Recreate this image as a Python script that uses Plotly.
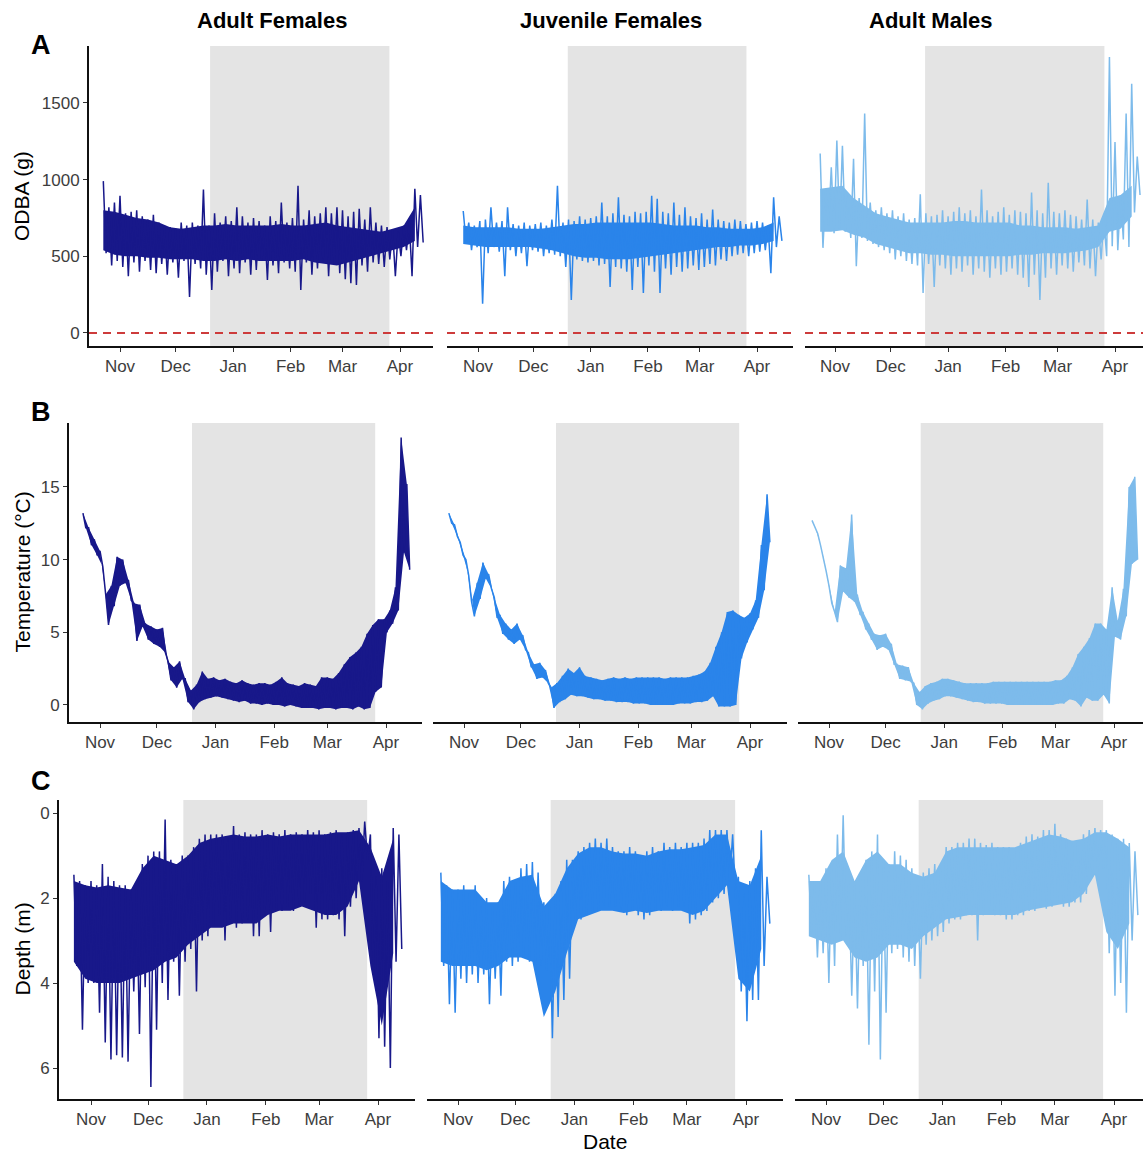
import pandas as pd
import plotly.graph_objects as go

W, H = 1143, 1152
FONT = "Liberation Sans, Arial, Helvetica, sans-serif"

GROUPS = ["Adult Females", "Juvenile Females", "Adult Males"]
COLORS = ["#18188a", "#2a84ea", "#7dbbeb"]
MONTH_TICKS = ["2018-11-01", "2018-12-01", "2019-01-01", "2019-02-01", "2019-03-01", "2019-04-01"]
MONTH_LABELS = ["Nov", "Dec", "Jan", "Feb", "Mar", "Apr"]
SHADE_START, SHADE_END = "2018-12-19 14:00", "2019-03-26 07:00"
SAMPLE_STEP_DAYS = 3   # one high/low pair of the raw record read every 3 days
CORE_STEP_DAYS = 6     # edges of the dense body of the record read every 6 days

ROW_TITLES = ["ODBA (g)", "Temperature (°C)", "Depth (m)"]
ROW_LETTERS = ["A", "B", "C"]
Y_TICKS = [[0, 500, 1000, 1500], [0, 5, 10, 15], [0, 2, 4, 6]]

# ---------------- ODBA (g) ----------------
odba_start = ["2018-10-23", "2018-10-24", "2018-10-24"]
af_odba_hi = [990, 820, 850, 895, 780, 790, 800, 760, 740, 770,
              720, 700, 690, 680, 720, 700, 720, 700, 935, 700,
              780, 720, 760, 730, 820, 760, 720, 750, 730, 700,
              760, 730, 850, 720, 750, 960, 740, 800, 760, 780,
              820, 780, 820, 800, 760, 790, 810, 740, 820, 720,
              700, 690, 670, 660, 700, 720, 940, 900]
af_odba_lo = [520, 440, 470, 430, 370, 460, 400, 470, 410, 390,
              450, 380, 460, 360, 470, 235, 450, 420, 380, 280,
              400, 470, 370, 420, 390, 460, 380, 410, 470, 345,
              440, 390, 460, 420, 400, 280, 460, 380, 420, 460,
              370, 450, 390, 350, 325, 313, 440, 400, 460, 450,
              430, 480, 370, 500, 540, 370, 560, 590]
af_odba_core_hi = [800, 790, 770, 750, 740, 720, 690, 680, 690, 700,
                   700, 710, 700, 700, 700, 700, 710, 700, 700, 710,
                   720, 700, 690, 680, 670, 660, 680, 700, 820]
af_odba_core_lo = [540, 510, 500, 500, 490, 490, 480, 480, 480, 470,
                   470, 480, 470, 480, 470, 470, 470, 470, 480, 460,
                   450, 440, 460, 480, 500, 520, 540, 560, 600]
jf_odba_hi = [795, 720, 700, 730, 740, 820, 720, 730, 820, 710,
              700, 720, 700, 710, 720, 700, 740, 960, 720, 740,
              730, 760, 740, 750, 760, 850, 760, 780, 885, 770,
              760, 790, 780, 790, 895, 875, 790, 780, 850, 770,
              820, 760, 750, 780, 740, 805, 740, 730, 720, 740,
              730, 710, 720, 730, 720, 700, 885, 760]
jf_odba_lo = [600, 540, 560, 190, 520, 560, 530, 370, 540, 500,
              520, 435, 540, 530, 500, 520, 510, 500, 430, 215,
              480, 470, 460, 470, 440, 450, 300, 430, 420, 400,
              280, 430, 260, 440, 400, 260, 420, 380, 430, 400,
              420, 440, 410, 430, 450, 440, 480, 470, 500, 510,
              520, 500, 520, 530, 540, 390, 560, 600]
jf_odba_core_hi = [700, 690, 690, 690, 690, 680, 680, 680, 690, 700,
                   710, 710, 720, 720, 720, 720, 720, 720, 710, 700,
                   700, 700, 690, 690, 680, 680, 680, 690, 720]
jf_odba_core_lo = [580, 570, 560, 560, 560, 560, 560, 550, 540, 520,
                   500, 490, 490, 480, 480, 480, 490, 500, 510, 520,
                   530, 540, 550, 560, 560, 570, 570, 580, 600]
am_odba_hi = [1170, 940, 1080, 1255, 1220, 900, 1135, 880, 1430, 850,
              800, 820, 780, 800, 760, 780, 740, 750, 905, 780,
              760, 770, 800, 760, 790, 820, 780, 800, 760, 935,
              800, 760, 790, 820, 770, 800, 790, 780, 915, 800,
              780, 980, 790, 780, 800, 770, 760, 740, 870, 740,
              720, 740, 1800, 1245, 900, 1430, 1625, 1150]
am_odba_lo = [555, 700, 650, 680, 660, 620, 435, 620, 600, 580,
              560, 540, 520, 480, 500, 470, 450, 440, 260, 450,
              300, 440, 420, 380, 420, 400, 440, 380, 420, 400,
              360, 420, 380, 400, 420, 380, 360, 300, 380, 215,
              360, 420, 380, 440, 420, 400, 460, 440, 420, 370,
              480, 500, 565, 540, 610, 560, 785, 900]
am_odba_core_hi = [940, 950, 960, 880, 830, 780, 760, 740, 720, 720,
                   720, 720, 730, 730, 720, 720, 720, 720, 700, 700,
                   690, 690, 690, 680, 690, 700, 880, 900, 960]
am_odba_core_lo = [660, 660, 670, 640, 620, 580, 560, 540, 520, 520,
                   510, 510, 500, 500, 500, 500, 500, 500, 510, 510,
                   520, 520, 520, 530, 540, 560, 660, 680, 760]

# ---------------- Temperature (°C) ----------------
temp_start = ["2018-10-23", "2018-10-24", "2018-10-23"]
af_temp_hi = [13.2, 12.2, 11.4, 10.6, 7.6, 8.2, 10.2, 10.0, 8.6, 7.0,
              6.9, 5.6, 5.4, 5.2, 5.3, 3.0, 2.6, 3.0, 1.8, 1.0,
              1.4, 2.3, 1.8, 1.9, 1.7, 1.8, 1.6, 1.5, 1.7, 1.5,
              1.4, 1.5, 1.5, 1.4, 1.6, 1.9, 1.5, 1.4, 1.3, 1.5,
              1.4, 1.3, 1.9, 1.9, 1.8, 2.2, 2.8, 3.3, 3.6, 4.0,
              4.9, 5.5, 5.9, 5.9, 6.5, 8.1, 18.4, 15.2]
af_temp_lo = [12.2, 11.0, 10.3, 9.5, 5.5, 6.8, 8.2, 8.4, 7.2, 4.4,
              5.4, 4.5, 4.2, 4.0, 3.6, 1.7, 1.2, 1.8, 0.2, -0.3,
              0.2, 0.4, 0.5, 0.6, 0.5, 0.4, 0.3, 0.2, 0.3, 0.1,
              0.1, 0.0, 0.1, 0.0, 0.0, -0.1, 0.0, -0.1, -0.2, -0.2,
              -0.2, -0.3, -0.2, -0.2, -0.3, -0.2, -0.2, -0.3, -0.1, -0.3,
              -0.2, 0.9, 1.2, 5.0, 5.6, 6.5, 10.5, 9.3]
jf_temp_hi = [13.2, 12.4, 11.2, 10.0, 7.1, 8.4, 9.8, 9.0, 7.4, 6.2,
              5.6, 5.2, 5.6, 4.8, 3.6, 2.8, 2.9, 2.4, 1.2, 1.5,
              2.0, 2.5, 2.2, 2.6, 2.0, 1.9, 1.8, 1.7, 1.8, 1.9,
              1.8, 1.9, 1.8, 1.9, 1.9, 1.9, 1.9, 1.9, 1.8, 1.9,
              1.9, 1.9, 1.9, 2.0, 2.1, 2.3, 2.9, 4.0, 5.0, 6.4,
              6.5, 6.2, 6.0, 6.3, 7.2, 11.0, 14.5]
jf_temp_lo = [12.5, 11.6, 10.3, 8.9, 6.1, 7.3, 8.7, 8.0, 6.0, 4.9,
              4.5, 4.2, 4.5, 3.8, 2.6, 1.8, 1.9, 1.5, -0.2, 0.2,
              0.4, 0.7, 0.6, 0.6, 0.5, 0.4, 0.4, 0.3, 0.3, 0.2,
              0.2, 0.2, 0.1, 0.1, 0.1, 0.0, 0.0, 0.0, 0.0, 0.0,
              0.1, 0.1, 0.1, 0.2, 0.2, 0.3, 0.6, -0.1, -0.1, -0.1,
              0.0, 3.2, 4.3, 5.2, 6.0, 7.9, 11.2]
am_temp_hi = [12.7, 11.8, 10.2, 8.2, 6.4, 9.6, 9.4, 13.1, 7.6, 6.4,
              5.6, 4.9, 4.8, 4.9, 4.2, 2.8, 2.7, 2.6, 1.5, 0.9,
              1.3, 1.5, 1.6, 1.8, 1.8, 1.7, 1.6, 1.5, 1.5, 1.5,
              1.5, 1.5, 1.6, 1.6, 1.6, 1.6, 1.6, 1.6, 1.6, 1.6,
              1.6, 1.6, 1.6, 1.7, 1.7, 2.0, 2.6, 3.5, 4.0, 4.6,
              5.6, 5.6, 5.2, 8.1, 5.8, 8.0, 15.0, 15.7]
am_temp_lo = [12.3, 11.0, 9.2, 7.0, 5.7, 7.8, 7.4, 7.1, 6.2, 5.2,
              4.5, 3.8, 4.0, 3.8, 2.8, 1.8, 1.7, 1.6, 0.0, -0.3,
              0.1, 0.3, 0.4, 0.6, 0.6, 0.5, 0.4, 0.3, 0.2, 0.2,
              0.1, 0.1, 0.1, 0.1, 0.0, 0.0, 0.0, 0.0, 0.0, 0.0,
              0.0, 0.0, 0.0, 0.1, 0.1, 0.4, 0.3, -0.1, 0.5, 0.3,
              0.3, 0.7, 0.1, 4.7, 4.5, 6.1, 9.7, 10.0]

# ---------------- Depth (m) ----------------
depth_start = ["2018-10-23", "2018-10-23", "2018-10-23"]
af_depth_shallow = [1.45, 1.6, 1.7, 1.6, 1.7, 1.2, 1.5, 1.6, 1.7, 1.7,
                    1.8, 1.8, 1.2, 1.0, 0.9, 0.9, 0.15, 1.1, 1.2, 1.0,
                    1.0, 0.8, 0.6, 0.5, 0.5, 0.5, 0.5, 0.6, 0.3, 0.5,
                    0.45, 0.5, 0.5, 0.4, 0.5, 0.45, 0.5, 0.4, 0.5, 0.45,
                    0.5, 0.4, 0.45, 0.4, 0.5, 0.45, 0.4, 0.5, 0.45, 0.4,
                    0.35, 0.2, 0.5, 1.5, 1.3, 1.6, 0.35, 0.5]
af_depth_deep = [3.6, 5.1, 4.0, 4.0, 4.7, 5.4, 5.8, 5.7, 5.75, 5.85,
                 4.2, 5.2, 4.1, 6.45, 5.1, 4.0, 4.4, 3.5, 4.3, 3.5,
                 3.2, 4.2, 3.0, 2.9, 2.6, 2.4, 3.0, 2.5, 2.7, 2.6,
                 2.5, 2.9, 2.9, 2.4, 2.8, 2.3, 2.3, 2.2, 2.3, 2.2,
                 2.1, 1.9, 2.7, 2.5, 2.5, 2.4, 2.5, 2.9, 2.2, 2.0,
                 1.6, 1.1, 3.8, 5.3, 5.5, 6.0, 3.5, 3.2]
af_depth_core_shallow = [1.6, 1.7, 1.75, 1.7, 1.75, 1.8, 1.3, 1.0, 1.1, 1.2,
                         1.0, 0.7, 0.6, 0.55, 0.5, 0.55, 0.55, 0.5, 0.55, 0.5,
                         0.5, 0.5, 0.5, 0.45, 0.45, 0.4, 0.8, 1.5, 0.6]
af_depth_core_deep = [3.5, 3.9, 4.0, 4.0, 4.0, 3.9, 3.8, 3.7, 3.5, 3.4,
                      3.1, 2.9, 2.7, 2.7, 2.6, 2.6, 2.6, 2.4, 2.3, 2.3,
                      2.2, 2.3, 2.4, 2.4, 2.2, 1.6, 3.6, 5.0, 3.3]
jf_depth_shallow = [1.4, 1.7, 1.8, 1.8, 1.7, 1.9, 1.7, 2.2, 2.0, 2.2,
                    2.1, 1.6, 1.5, 1.6, 1.3, 1.2, 1.15, 1.4, 2.1, 2.2,
                    1.9, 1.6, 1.1, 1.1, 0.9, 0.8, 0.7, 0.6, 0.7, 0.6,
                    0.8, 0.9, 0.9, 0.8, 0.9, 1.0, 0.9, 0.8, 0.9, 0.7,
                    0.8, 0.7, 0.8, 0.7, 0.7, 0.7, 0.6, 0.4, 0.4, 0.4,
                    0.4, 0.5, 1.5, 1.9, 1.6, 1.3, 0.4, 1.5]
jf_depth_deep = [3.6, 4.5, 4.7, 3.9, 4.0, 3.8, 4.0, 3.8, 4.5, 3.9,
                 4.3, 3.5, 3.6, 3.5, 3.4, 3.5, 3.6, 3.6, 3.7, 5.3,
                 4.8, 4.4, 3.9, 2.6, 2.5, 2.4, 2.3, 2.3, 2.2, 2.2,
                 2.2, 2.3, 2.4, 2.3, 2.4, 2.5, 2.4, 2.3, 2.3, 2.2,
                 2.3, 2.2, 2.2, 2.6, 2.5, 2.4, 2.3, 2.1, 2.0, 1.9,
                 1.6, 2.0, 4.2, 4.9, 4.4, 4.4, 3.6, 2.6]
jf_depth_core_shallow = [1.6, 1.8, 1.8, 1.8, 2.1, 2.1, 1.6, 1.5, 1.45, 2.2,
                         1.9, 1.3, 0.95, 0.8, 0.8, 0.9, 0.95, 0.95, 1.0, 0.9,
                         0.85, 0.85, 0.8, 0.75, 0.5, 0.5, 1.6, 1.7, 1.0]
jf_depth_core_deep = [3.5, 3.6, 3.6, 3.6, 3.7, 3.6, 3.4, 3.4, 3.5, 4.8,
                      4.2, 3.3, 2.5, 2.4, 2.3, 2.3, 2.35, 2.3, 2.35, 2.3,
                      2.3, 2.3, 2.4, 2.3, 2.0, 1.7, 3.9, 4.2, 3.2]
am_depth_shallow = [1.45, 1.6, 1.6, 1.3, 1.2, 0.5, 0.05, 1.6, 1.7, 1.5,
                    1.1, 0.9, 0.5, 1.1, 1.2, 0.9, 1.0, 1.1, 1.3, 1.7,
                    1.4, 1.3, 1.2, 1.3, 0.8, 0.8, 0.7, 0.7, 0.6, 0.6,
                    0.7, 0.75, 0.7, 0.8, 0.8, 0.8, 0.9, 0.7, 0.55, 0.5,
                    0.55, 0.4, 0.4, 0.25, 0.5, 0.6, 0.65, 0.7, 0.5, 0.4,
                    0.35, 0.4, 0.4, 0.5, 0.6, 0.6, 0.7, 0.9]
am_depth_deep = [2.8, 3.4, 3.3, 4.0, 3.6, 3.0, 2.9, 4.3, 4.6, 3.6,
                 5.45, 4.2, 5.8, 4.7, 3.3, 3.2, 3.4, 3.5, 3.6, 3.9,
                 3.1, 3.0, 2.9, 2.8, 2.6, 2.5, 2.5, 2.4, 2.4, 3.0,
                 2.4, 2.3, 2.4, 2.4, 2.5, 2.5, 2.4, 2.4, 2.3, 2.3,
                 2.2, 2.25, 2.2, 2.1, 2.2, 2.2, 2.1, 2.1, 1.9, 1.4,
                 1.4, 1.3, 3.3, 4.3, 4.0, 4.7, 3.0, 2.4]
am_depth_core_shallow = [1.6, 1.6, 1.1, 0.9, 1.6, 1.1, 0.9, 1.2, 1.2, 1.4,
                         1.5, 1.4, 0.9, 0.8, 0.8, 0.8, 0.8, 0.8, 0.8, 0.7,
                         0.6, 0.5, 0.55, 0.65, 0.6, 0.45, 0.45, 0.6, 0.8]
am_depth_core_deep = [2.9, 3.0, 3.1, 3.0, 3.4, 3.5, 3.4, 3.1, 3.1, 3.2,
                      2.9, 2.7, 2.5, 2.45, 2.4, 2.4, 2.4, 2.4, 2.4, 2.3,
                      2.25, 2.2, 2.15, 2.1, 1.9, 1.45, 2.8, 3.2, 2.6]

# (start, raw high, raw low, core high, core low); core None -> body spans raw high/low
SERIES = [
    [(odba_start[0], af_odba_hi, af_odba_lo, af_odba_core_hi, af_odba_core_lo),
     (odba_start[1], jf_odba_hi, jf_odba_lo, jf_odba_core_hi, jf_odba_core_lo),
     (odba_start[2], am_odba_hi, am_odba_lo, am_odba_core_hi, am_odba_core_lo)],
    [(temp_start[0], af_temp_hi, af_temp_lo, None, None),
     (temp_start[1], jf_temp_hi, jf_temp_lo, None, None),
     (temp_start[2], am_temp_hi, am_temp_lo, None, None)],
    [(depth_start[0], af_depth_shallow, af_depth_deep, af_depth_core_shallow, af_depth_core_deep),
     (depth_start[1], jf_depth_shallow, jf_depth_deep, jf_depth_core_shallow, jf_depth_core_deep),
     (depth_start[2], am_depth_shallow, am_depth_deep, am_depth_core_shallow, am_depth_core_deep)],
]

# ---------------- layout geometry (pixels) ----------------
# per panel: plot-area left, right, pixel of the Nov tick, pixel of the Apr tick
PANEL_X = [
    [(89, 433, 120, 400), (447, 793, 478, 757), (805, 1143, 835, 1115)],
    [(69, 422, 100, 386), (433, 787, 464, 750), (798, 1143, 829, 1114)],
    [(59, 415, 91, 378), (427, 783, 458, 746), (795, 1143, 826, 1114)],
]
ROW_Y = [(46, 346), (423, 722), (800, 1099)]
ROW_RANGE = [[-85, 1871], [-1.17, 19.4], [6.73, -0.31]]
LETTER_Y = [45, 412, 781]

NOV1 = pd.Timestamp(MONTH_TICKS[0])
APR1 = pd.Timestamp(MONTH_TICKS[-1])
SPAN = (APR1 - NOV1)


def px_to_date(px, pn, pa):
    return NOV1 + SPAN * ((px - pn) / (pa - pn))


def sample_dates(start, n, step, shift_days=0.0):
    t0 = pd.Timestamp(start)
    return [t0 + pd.Timedelta(days=step * i + shift_days) for i in range(n)]


def zigzag(start, hi, lo):
    th = sample_dates(start, len(hi), SAMPLE_STEP_DAYS)
    tl = sample_dates(start, len(lo), SAMPLE_STEP_DAYS, SAMPLE_STEP_DAYS / 2)
    xs, ys = [], []
    for a, b, h, l in zip(th, tl, hi, lo):
        xs += [a, b]
        ys += [h, l]
    return xs, ys


fig = go.Figure()
shapes, annotations = [], []
TICK_FONT = dict(family=FONT, size=17, color="#3d3d3d")

for r in range(3):
    y0px, y1px = ROW_Y[r]
    for c in range(3):
        k = r * 3 + c + 1
        sfx = "" if k == 1 else str(k)
        x0, x1, pn, pa = PANEL_X[r][c]
        start, hi, lo, core_hi, core_lo = SERIES[r][c]
        ax = dict(xaxis="x" + sfx, yaxis="y" + sfx, hoverinfo="skip", showlegend=False)
        # dense body of the record
        if core_hi is None:
            bx_hi = sample_dates(start, len(hi), SAMPLE_STEP_DAYS)
            bx_lo = sample_dates(start, len(lo), SAMPLE_STEP_DAYS, SAMPLE_STEP_DAYS / 2)
            b_hi, b_lo = hi, lo
        else:
            bx_hi = sample_dates(start, len(core_hi), CORE_STEP_DAYS)
            bx_lo = sample_dates(start, len(core_lo), CORE_STEP_DAYS)
            b_hi, b_lo = core_hi, core_lo
        fig.add_trace(go.Scatter(x=bx_hi, y=b_hi, mode="lines",
                                 line=dict(width=0, color=COLORS[c]), **ax))
        fig.add_trace(go.Scatter(x=bx_lo, y=b_lo, mode="lines", fill="tonexty",
                                 fillcolor=COLORS[c], line=dict(width=0, color=COLORS[c]), **ax))
        # the oscillating record itself (spikes)
        xs, ys = zigzag(start, hi, lo)
        fig.add_trace(go.Scatter(x=xs, y=ys, mode="lines",
                                 line=dict(color=COLORS[c], width=1.5), **ax))

        fig.layout["xaxis" + sfx] = dict(
            domain=[x0 / W, x1 / W], anchor="y" + sfx, type="date",
            range=[px_to_date(x0, pn, pa), px_to_date(x1, pn, pa)],
            tickvals=MONTH_TICKS, ticktext=MONTH_LABELS,
            ticks="outside", ticklen=4, tickwidth=1.3, tickcolor="#333333",
            showline=True, linecolor="#111111", linewidth=2,
            showgrid=False, zeroline=False, tickfont=TICK_FONT)
        yax = dict(
            domain=[1 - y1px / H, 1 - y0px / H], anchor="x" + sfx,
            range=ROW_RANGE[r], showgrid=False, zeroline=False)
        if c == 0:
            yax.update(showline=True, linecolor="#111111", linewidth=2,
                       ticks="outside", ticklen=4, tickwidth=1.3, tickcolor="#333333",
                       tickvals=Y_TICKS[r], ticktext=[str(v) for v in Y_TICKS[r]],
                       tickfont=TICK_FONT)
        else:
            yax.update(showline=False, showticklabels=False, ticks="")
        fig.layout["yaxis" + sfx] = yax

        shapes.append(dict(type="rect", xref="x" + sfx, yref="y" + sfx + " domain",
                           x0=SHADE_START, x1=SHADE_END, y0=0, y1=1,
                           fillcolor="#e4e4e4", line=dict(width=0), layer="below"))
        if r == 0:
            shapes.append(dict(type="line", xref="x" + sfx + " domain", yref="y" + sfx,
                               x0=0, x1=1, y0=0, y1=0, layer="below",
                               line=dict(color="#cd3b3b", width=2, dash="8px,6px")))

    annotations.append(dict(text="<b>%s</b>" % ROW_LETTERS[r], x=41 / W,
                            y=1 - LETTER_Y[r] / H, xref="paper", yref="paper",
                            showarrow=False, font=dict(family=FONT, size=27, color="black"),
                            xanchor="center", yanchor="middle"))
    annotations.append(dict(text=ROW_TITLES[r], x=22 / W, y=1 - (y0px + y1px) / 2 / H,
                            xref="paper", yref="paper", textangle=-90, showarrow=False,
                            font=dict(family=FONT, size=21, color="black"),
                            xanchor="center", yanchor="middle"))

for c, (name, cx) in enumerate(zip(GROUPS, [272, 611, 930])):
    annotations.append(dict(text="<b>%s</b>" % name, x=cx / W, y=1 - 20 / H,
                            xref="paper", yref="paper", showarrow=False,
                            font=dict(family=FONT, size=22, color="black"),
                            xanchor="center", yanchor="middle"))

annotations.append(dict(text="Date", x=605 / W, y=1 - 1141 / H, xref="paper", yref="paper",
                        showarrow=False, font=dict(family=FONT, size=21, color="black"),
                        xanchor="center", yanchor="middle"))

fig.update_layout(width=W, height=H, margin=dict(l=0, r=0, t=0, b=0),
                  paper_bgcolor="white", plot_bgcolor="white",
                  shapes=shapes, annotations=annotations,
                  font=dict(family=FONT))

fig.write_html("out.html")
